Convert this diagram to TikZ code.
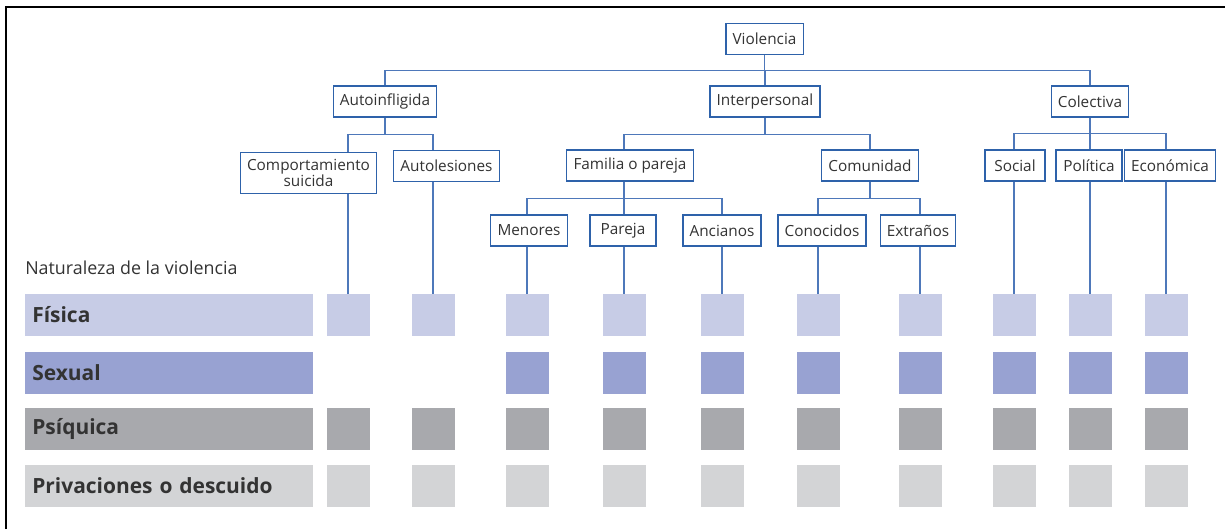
\documentclass[tikz,border=0pt]{standalone}
\usepackage{fontspec}
\setmainfont{Open Sans}

\definecolor{boxblue}{RGB}{46,98,170}
\definecolor{linkblue}{RGB}{78,120,186}
\definecolor{ink}{RGB}{51,51,51}
\definecolor{fisica}{RGB}{199,204,230}
\definecolor{sexual}{RGB}{152,162,210}
\definecolor{psiquica}{RGB}{168,169,173}
\definecolor{privacion}{RGB}{211,212,214}

\tikzset{
    % Tree boxes - thin blue frame
    cat/.style={draw=boxblue, line width=0.9pt, fill=white, text=ink,
        font=\fontsize{11.5}{12.5}\selectfont, minimum height=23.25pt,
        inner xsep=5pt, inner ysep=2pt},
    % Connectors between boxes
    link/.style={linkblue, line width=0.9pt},
    % Row labels on the left
    row label/.style={text=ink, font=\fontsize{15.7}{17}\selectfont\bfseries,
        minimum height=31.5pt, text width=205pt, align=left,
        inner xsep=5.5pt, inner ysep=0pt},
    % Small squares in the grid
    cell/.style={minimum width=32.25pt, minimum height=31.5pt, inner sep=0pt},
    frame/.style={black, line width=1.5pt},
}

\begin{document}
\begin{tikzpicture}[x=0.75pt, y=-0.75pt]
    \useasboundingbox (0,0) rectangle (1225,529);
    \draw[frame] (6,529) -- (6,7) -- (1225,7);

    % Tree
    \node[cat] (violencia) at (764.5,39) {Violencia};
    \node[cat] (autoinf) at (385,101.5) {Autoinfligida};
    \node[cat] (interp) at (765,101.5) {Interpersonal};
    \node[cat] (colect) at (1090,101.5) {Colectiva};
    \node[cat, align=center, inner ysep=5pt] (compo) at (308.5,173) {Comportamiento\\suicida};
    \node[cat] (autoles) at (446.5,166) {Autolesiones};
    \node[cat] (famil) at (630,165.5) {Familia o pareja};
    \node[cat] (comun) at (870,165.5) {Comunidad};
    \node[cat, minimum width=45pt] (social) at (1015,165.5) {Social};
    \node[cat, minimum width=49.5pt] (polit) at (1089,165.5) {Política};
    \node[cat] (econ) at (1170,165.5) {Económica};
    \node[cat] (menores) at (529,230.5) {Menores};
    \node[cat, minimum width=49.5pt] (pareja) at (623,230.5) {Pareja};
    \node[cat] (ancianos) at (722,230.5) {Ancianos};
    \node[cat] (conoc) at (822,230.5) {Conocidos};
    \node[cat] (extran) at (918,230.5) {Extraños};

    % Rows
    \node[anchor=west, text=ink, font=\fontsize{13.4}{14.5}\selectfont, inner sep=0pt]
        (naturaleza) at (25,268) {Naturaleza de la violencia};
    \node[row label, fill=fisica] (lfis) at (169,315) {Física};
    \node[row label, fill=sexual] (lsex) at (169,372.5) {Sexual};
    \node[row label, fill=psiquica] (lpsi) at (169,428.5) {Psíquica};
    \node[row label, fill=privacion] (lpri) at (169,485.5) {Privaciones o descuido};

    \foreach \x [count=\i] in {348,433,527,624,722,818,920,1014,1090,1166} {
        \node[cell, fill=fisica] (f\i) at (\x,315) {};
        \node[cell, fill=psiquica] (p\i) at (\x,428.5) {};
        \node[cell, fill=privacion] (d\i) at (\x,485.5) {};
    }
    \foreach \i in {3,...,10}
        \node[cell, fill=sexual] (s\i) at (f\i |- lsex) {};

    % Connectors
    \foreach \c in {autoinf,interp,colect}
        \draw[link] (violencia.south) -- ++(0,15) -| (\c.north);
    \draw[link] (autoinf.south) -- ++(0,17) -| (compo.north -| f1);
    \draw[link] (autoinf.south) -- ++(0,17) -| (autoles.north -| f2);
    \draw[link] (interp.south) -- ++(0,17) -| (famil.north -| f4);
    \draw[link] (interp.south) -- ++(0,17) -| (comun.north);
    \foreach \c/\i in {social/8,polit/9,econ/10}
        \draw[link] (colect.south) -- ++(0,16) -| (\c.north -| f\i);
    \foreach \c/\i in {menores/3,pareja/4,ancianos/5}
        \draw[link] (famil.south -| f4) -- ++(0,17) -| (\c.north -| f\i);
    \foreach \c/\i in {conoc/6,extran/7}
        \draw[link] (comun.south) -- ++(0,17) -| (\c.north -| f\i);

    % Drops to the grid
    \foreach \b/\i in {compo/1,autoles/2,menores/3,pareja/4,ancianos/5,conoc/6,extran/7,social/8,polit/9,econ/10}
        \draw[link] (\b.south -| f\i) -- (f\i.north);
\end{tikzpicture}
\end{document}
